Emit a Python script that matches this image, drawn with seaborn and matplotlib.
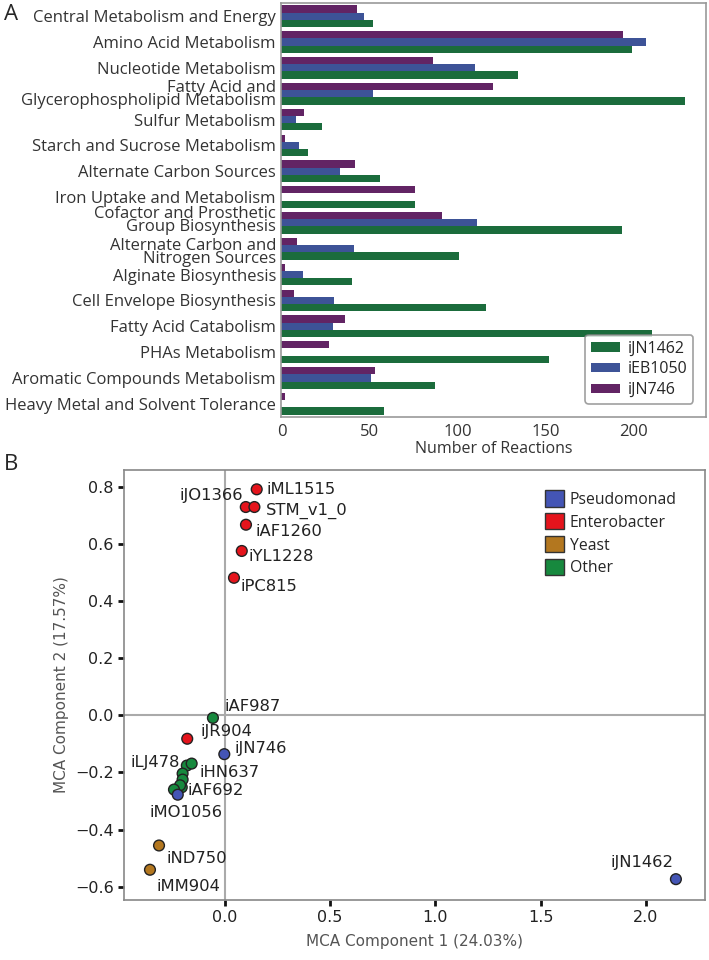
import matplotlib
matplotlib.use("Agg")
import matplotlib.pyplot as plt
import matplotlib.transforms as mtransforms
from matplotlib.patches import Patch
import pandas as pd
import seaborn as sns

# ---------------- Panel A data -----------------
categories = ["Central Metabolism and Energy", "Amino Acid Metabolism", "Nucleotide Metabolism",
              "Fatty Acid and\nGlycerophospholipid Metabolism", "Sulfur Metabolism",
              "Starch and Sucrose Metabolism", "Alternate Carbon Sources",
              "Iron Uptake and Metabolism", "Cofactor and Prosthetic\nGroup Biosynthesis",
              "Alternate Carbon and\nNitrogen Sources", "Alginate Biosynthesis",
              "Cell Envelope Biosynthesis", "Fatty Acid Catabolism", "PHAs Metabolism",
              "Aromatic Compounds Metabolism", "Heavy Metal and Solvent Tolerance"]
ijn746 = [43, 194, 86, 120, 13, 2, 42, 76, 91, 9, 2, 7, 36, 27, 53, 2]
ieb1050 = [47, 207, 110, 52, 8, 10, 33, 0, 111, 41, 12, 30, 29, 0, 51, 0]
ijn1462 = [52, 199, 134, 229, 23, 15, 56, 76, 193, 101, 40, 116, 210, 152, 87, 58]
model_names = ["iJN746", "iEB1050", "iJN1462"]

# ---------------- Panel B data -----------------
labels = ["iML1515", "iJO1366", "STM_v1_0", "iAF1260", "iYL1228", "iPC815",
          "iAF987", "iJR904", "iJN746", "iLJ478", "iHN637", "iAF692",
          "", "", "", "", "iMO1056", "iND750", "iMM904", "iJN1462"]
mca1 = [0.152, 0.100, 0.141, 0.101, 0.081, 0.044,
        -0.056, -0.178, -0.002, -0.180, -0.157, -0.204,
        -0.200, -0.200, -0.212, -0.241, -0.223, -0.312, -0.355, 2.143]
mca2 = [0.792, 0.730, 0.730, 0.668, 0.576, 0.482,
        -0.009, -0.082, -0.136, -0.176, -0.169, -0.252,
        -0.204, -0.225, -0.245, -0.260, -0.278, -0.456, -0.541, -0.574]
groups = ["Enterobacter"] * 6 + ["Other", "Enterobacter", "Pseudomonad"] + ["Other"] * 7 + \
         ["Pseudomonad", "Yeast", "Yeast", "Pseudomonad"]
group_order = ["Pseudomonad", "Enterobacter", "Yeast", "Other"]

bar_colors = {"iJN746": "#6c1a6e", "iEB1050": "#2e4ca6", "iJN1462": "#0d7a3a"}
group_colors = {"Pseudomonad": "#4455b5", "Enterobacter": "#e5141c",
                "Yeast": "#b3771f", "Other": "#17893e"}

sns.set_style("white")
plt.rcParams["font.family"] = ["DejaVu Sans"]
label_font = "Open Sans"

fig = plt.figure(figsize=(7.09, 9.6), dpi=100)

# ---------------- Panel A: bar chart -----------------
ax_a = fig.add_axes([0.397, 0.566, 0.599, 0.4306])
df_a = pd.DataFrame({
    "category": categories * 3,
    "reactions": ijn746 + ieb1050 + ijn1462,
    "model": [m for m in model_names for _ in categories],
})
sns.barplot(data=df_a, x="reactions", y="category", hue="model", hue_order=model_names,
            palette=bar_colors, orient="h", width=0.84, linewidth=0, ax=ax_a)
ax_a.set_xlim(0, 241)
ax_a.set_xticks([0, 50, 100, 150, 200])
ax_a.set_ylabel("")
ax_a.set_xlabel("Number of Reactions", fontfamily=label_font, fontsize=11.5, color="#333333", labelpad=1)
ax_a.tick_params(axis="y", length=0, pad=4)
ax_a.tick_params(axis="x", length=3, width=1, color="#555555", pad=2)
for lab in ax_a.get_xticklabels():
    lab.set_fontfamily(label_font)
    lab.set_fontsize(12)
    lab.set_color("#333333")
# nudge the two stacked two-line labels apart, as in the original figure
nudge = {"Cofactor and Prosthetic\nGroup Biosynthesis": 3, "Alternate Carbon and\nNitrogen Sources": -3}
for lab in ax_a.get_yticklabels():
    lab.set_fontfamily(label_font)
    lab.set_fontsize(12)
    lab.set_linespacing(0.74)
    lab.set_color("#333333")
    shift = nudge.get(lab.get_text(), 0)
    if shift:
        lab.set_transform(lab.get_transform() + mtransforms.ScaledTranslation(0, shift / 100, fig.dpi_scale_trans))
for sp in ax_a.spines.values():
    sp.set_color("#999999")
    sp.set_linewidth(1.2)

handles, names = ax_a.get_legend_handles_labels()
leg_a = ax_a.legend(handles[::-1], names[::-1], loc="lower right",
                    prop={"family": label_font, "size": 11.5}, frameon=True, fancybox=True,
                    edgecolor="#888888", handlelength=1.8, handleheight=0.55,
                    borderpad=0.35, labelspacing=0.3, handletextpad=0.5,
                    bbox_to_anchor=(0.988, 0.012))
leg_a.get_frame().set_linewidth(1.2)

fig.text(0.006, 0.985, "A", fontfamily=label_font, fontsize=16, va="center")

# ---------------- Panel B: MCA scatter -----------------
ax_b = fig.add_axes([0.175, 0.0625, 0.819, 0.448])
df_b = pd.DataFrame({"mca1": mca1, "mca2": mca2, "group": groups, "label": labels})
ax_b.axhline(0, color="#aaaaaa", lw=1.5, zorder=0)
ax_b.axvline(0, color="#aaaaaa", lw=1.5, zorder=0)
sns.scatterplot(data=df_b, x="mca1", y="mca2", hue="group", hue_order=group_order,
                palette=group_colors, s=60, edgecolor="#222222", linewidth=1.0,
                legend=False, ax=ax_b, zorder=3)

# label offsets in pixels (dx, dy, ha)
offsets = {
    "iML1515": (10, 0, "left"), "iJO1366": (-3, 12, "right"), "STM_v1_0": (11, -4, "left"),
    "iAF1260": (10, -7, "left"), "iYL1228": (7, -6, "left"), "iPC815": (7, -9, "left"),
    "iAF987": (12, 11, "left"), "iJR904": (13, 7, "left"), "iJN746": (10, 6, "left"),
    "iLJ478": (-7, 3, "right"), "iHN637": (8, -9, "left"), "iAF692": (6, -3, "left"),
    "iMO1056": (8, -18, "center"), "iND750": (7, -13, "left"), "iMM904": (7, -17, "left"),
    "iJN1462": (-2, 17, "right"),
}
for _, row in df_b.iterrows():
    if row["label"] == "":
        continue
    dx, dy, ha = offsets[row["label"]]
    ax_b.annotate(row["label"], (row["mca1"], row["mca2"]), xytext=(dx, dy),
                  textcoords="offset pixels", ha=ha, va="center", fontsize=11.8,
                  color="#222222", zorder=4)

ax_b.set_xlim(-0.478, 2.28)
ax_b.set_ylim(-0.647, 0.86)
ax_b.set_xticks([0.0, 0.5, 1.0, 1.5, 2.0])
ax_b.set_yticks([-0.6, -0.4, -0.2, 0.0, 0.2, 0.4, 0.6, 0.8])
ax_b.set_xlabel("MCA Component 1 (24.03%)", fontsize=11, color="#555555", labelpad=6)
ax_b.set_ylabel("MCA Component 2 (17.57%)", fontsize=11, color="#555555", labelpad=4)
ax_b.tick_params(axis="both", direction="out", length=4, width=2, color="#111111",
                 labelsize=11.5, labelcolor="#222222", bottom=True, left=True)
for sp in ax_b.spines.values():
    sp.set_color("#888888")
    sp.set_linewidth(1.2)

legend_handles = [Patch(facecolor=group_colors[g], edgecolor="#333333", label=g) for g in group_order]
ax_b.legend(handles=legend_handles, loc="upper left", bbox_to_anchor=(0.70, 0.985),
            frameon=False, prop={"family": label_font, "size": 11.3},
            handlelength=1.2, handleheight=1.2, handletextpad=0.4, labelspacing=0.35)

fig.text(0.006, 0.516, "B", fontfamily=label_font, fontsize=16, va="center")

plt.savefig("out.png", dpi=100)
